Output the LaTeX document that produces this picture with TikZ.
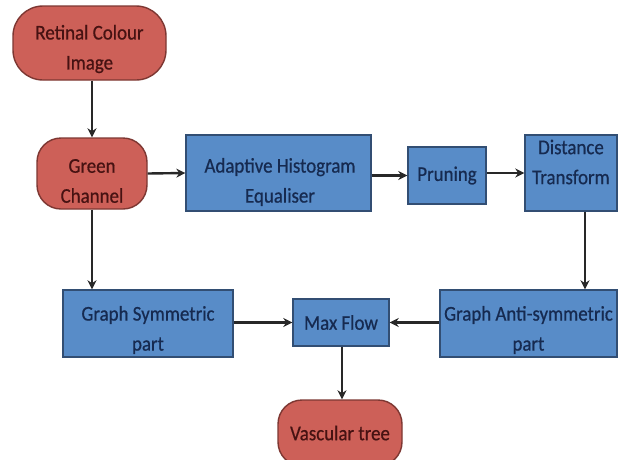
\documentclass[tikz,border=0pt]{standalone}
\usepackage{fontspec}
\setmainfont{Carlito}[FakeStretch=0.9,FakeBold=0.6]
\usetikzlibrary{arrows.meta}
\definecolor{bfill}{RGB}{88,140,200}
\definecolor{bdraw}{RGB}{50,78,115}
\definecolor{rfill}{RGB}{205,96,88}
\definecolor{rdraw}{RGB}{125,55,50}
\definecolor{btext}{RGB}{22,42,80}
\definecolor{rtext}{RGB}{70,18,18}
\definecolor{arr}{RGB}{40,40,40}
\tikzset{
  base/.style={inner sep=0pt, align=center, line width=1.4pt,
    font=\fontsize{21}{30}\selectfont},
  bluebox/.style={base, rectangle, fill=bfill, draw=bdraw, text=btext},
  redbox/.style={base, rectangle, rounded corners=24pt, fill=rfill, draw=rdraw, text=rtext},
  btxt/.style={base, text=btext},
  rtxt/.style={base, text=rtext},
  conn/.style={draw=arr, line width=2.4pt, -{Stealth[length=9pt,width=9pt]}}
}
\begin{document}
\begin{tikzpicture}[x=1pt,y=-1pt]
\useasboundingbox (0,0) rectangle (622,459);
\clip (0,0) rectangle (622,459);
\node[redbox, minimum width=153pt, minimum height=74pt, rounded corners=30pt] (rci) at (89.5,43) {};
\node[rtxt] (rcit) at (89.5,49) {Retinal Colour\\Image};
\node[redbox, minimum width=110pt, minimum height=71pt] (gc) at (92,173.5) {};
\node[rtxt] (gct) at (92,181) {Green\\Channel};
\node[bluebox, minimum width=185pt, minimum height=76pt] (ahe) at (278.5,173) {};
\node[btxt] (ahet) at (280,182) {Adaptive Histogram\\Equaliser};
\node[bluebox, minimum width=78pt, minimum height=57pt] (pr) at (447,175.5) {Pruning};
\node[bluebox, minimum width=92pt, minimum height=76pt] (dt) at (571,173) {};
\node[btxt] (dtt) at (571,162) {Distance\\Transform};
\node[bluebox, minimum width=170pt, minimum height=67pt] (gsp) at (148,323.5) {};
\node[btxt] (gspt) at (148,330) {Graph Symmetric\\part};
\node[bluebox, minimum width=96pt, minimum height=47pt] (mf) at (341,322.5) {Max Flow};
\node[bluebox, minimum width=177pt, minimum height=67pt] (gas) at (528.5,323.5) {};
\node[btxt] (gast) at (528.5,330) {Graph Anti-symmetric\\part};
\node[redbox, minimum width=124pt, minimum height=66pt] (vt) at (340,433) {Vascular tree};
\draw[conn] (rci.south -| gc.center) -- (gc.north);
\draw[conn] (gc.east) -- (ahe.west);
\draw[conn] (ahe.east |- pr.west) -- (pr.west);
\draw[conn] (pr.east |- dt.west) -- (dt.west);
\draw[conn] (gc.south) -- (gc.south |- gsp.north);
\draw[conn] ([xshift=14pt]dt.south) -- ([xshift=14pt]dt.south |- gas.north);
\draw[conn] (gsp.east |- mf.west) -- (mf.west);
\draw[conn] (gas.west |- mf.east) -- (mf.east);
\draw[conn] ([xshift=1pt]mf.south) -- ([xshift=1pt]mf.south |- vt.north);
\end{tikzpicture}
\end{document}
